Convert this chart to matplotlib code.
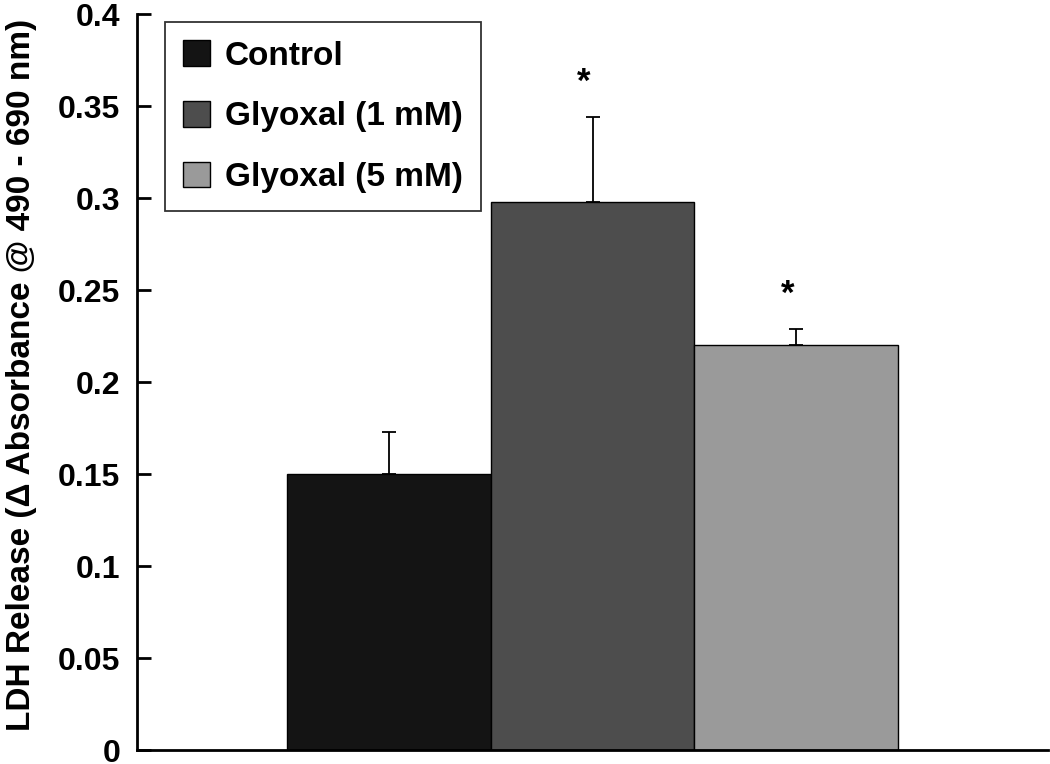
"""
LDH release bar chart - control vs glyoxal
"""
import matplotlib.pyplot as plt
import numpy as np

plt.rcParams['font.family'] = ['Liberation Sans', 'DejaVu Sans']
plt.rcParams['font.weight'] = 'bold'

# data
groups = ['Control', 'Glyoxal (1 mM)', 'Glyoxal (5 mM)']
ldh_release = [0.150, 0.298, 0.220]
ldh_err = [0.023, 0.046, 0.009]
significant = [False, True, True]
bar_colors = ['#141414', '#4d4d4d', '#9a9a9a']
y_ticks = [0, 0.05, 0.1, 0.15, 0.2, 0.25, 0.3, 0.35, 0.4]
y_tick_labels = ['0', '0.05', '0.1', '0.15', '0.2', '0.25', '0.3', '0.35', '0.4']


def main():
    fig = plt.figure(figsize=(10.5, 7.64), dpi=100)
    ax = fig.add_axes([137 / 1050, 14 / 764, (1048 - 137) / 1050, (750 - 14) / 764])

    x = np.arange(len(groups))
    zeros = [0] * len(groups)
    bars = ax.bar(x, ldh_release, width=1.0, color=bar_colors,
                  edgecolor='black', linewidth=1.0, zorder=2)
    ax.errorbar(x, ldh_release, yerr=[zeros, ldh_err], fmt='none',
                ecolor='black', elinewidth=1.3, capsize=5, capthick=1.3, zorder=1)

    # asterisks over significant groups
    for xi, v, e, s in zip(x, ldh_release, ldh_err, significant):
        if s:
            ax.annotate('*', (xi, v + e), xytext=(-6, 18), textcoords='offset points',
                        ha='center', va='baseline', fontsize=25, fontweight='bold')

    for b, lab in zip(bars, groups):
        b.set_label(lab)

    ax.set_xlim(-1.24, 3.24)
    ax.set_ylim(0, 0.4)
    ax.set_yticks(y_ticks)
    ax.set_yticklabels(y_tick_labels)
    ax.set_xticks([])
    ax.tick_params(axis='y', direction='in', length=10, width=2, pad=12, labelsize=23)

    for side in ['top', 'right']:
        ax.spines[side].set_visible(False)
    for side in ['left', 'bottom']:
        ax.spines[side].set_linewidth(2)

    ax.set_ylabel('LDH Release (Δ Absorbance @ 490 - 690 nm)', fontsize=24,
                  fontweight='bold')
    ax.yaxis.set_label_coords(-0.11, 0.51)

    leg = ax.legend(loc='upper left', bbox_to_anchor=(28 / 911, 1 - 8 / 736),
                    fontsize=24, frameon=True, fancybox=False, borderpad=0.55,
                    handlelength=0.8, handleheight=0.8, handletextpad=0.45,
                    labelspacing=0.88, borderaxespad=0)
    leg.get_frame().set_edgecolor('black')
    leg.get_frame().set_linewidth(1.3)

    fig.savefig('out.png', dpi=100)


if __name__ == '__main__':
    main()
